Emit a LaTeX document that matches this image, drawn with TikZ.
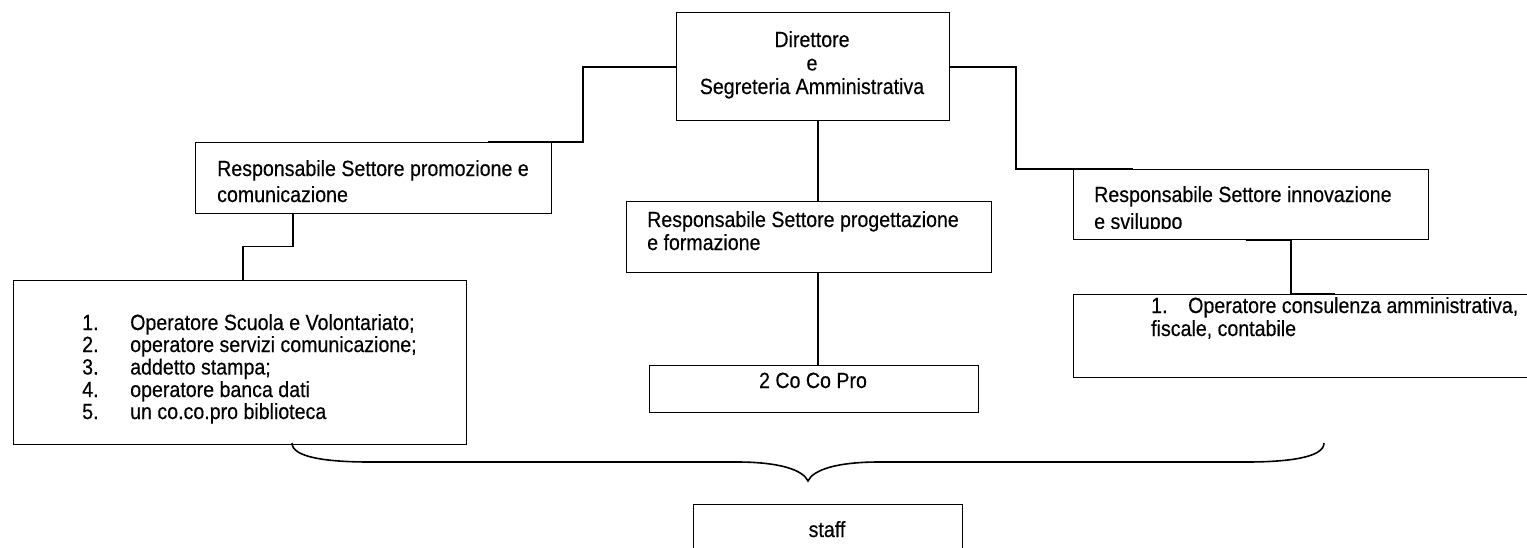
\documentclass[tikz,border=0pt]{standalone}
\usepackage{fontspec}
\setmainfont{Liberation Sans}[FakeBold=0.4]
\usetikzlibrary{calc}
\newcommand\vst[1]{\scalebox{1}[1.12]{#1}}
\begin{document}
\begin{tikzpicture}[x=1pt,y=-1pt,
  box/.style={draw,line width=1.4pt,inner sep=0pt,anchor=north west},
  conn/.style={draw,line width=1.7pt},
  txt/.style={inner sep=0pt,font=\fontsize{19.6}{23.5}\selectfont},
  ltxt/.style={txt,anchor=base west},
  ctxt/.style={txt,anchor=base}]
\useasboundingbox (0,0) rectangle (1527,547);
\clip (0,0) rectangle (1527,547);
% boxes
\node[box,minimum width=273pt,minimum height=108pt] (dir) at (676,12) {};
\node[box,minimum width=356pt,minimum height=71pt] (prom) at (195,142) {};
\node[box,minimum width=365pt,minimum height=71pt] (prog) at (626,201) {};
\node[box,minimum width=355pt,minimum height=70pt] (innov) at (1073,169) {};
\node[box,minimum width=453pt,minimum height=164pt] (list) at (13,280) {};
\node[box,minimum width=329pt,minimum height=47pt] (coco) at (649,365) {};
\node[box,minimum width=470pt,minimum height=83pt] (op) at (1073,294) {};
\node[box,minimum width=269pt,minimum height=60pt] (staff) at (693,504) {};
% texts
\node[ctxt] (t1) at (812,47) {\vst{Direttore}};
\node[ctxt] (t2) at (812,70.5) {\vst{e}};
\node[ctxt] (t3) at (812,94) {\vst{Segreteria Amministrativa}};
\node[ltxt] (p1) at (217,176) {\vst{Responsabile Settore promozione e}};
\node[ltxt] (p2) at (217,202) {\vst{comunicazione}};
\node[ltxt] (g1) at (647,227) {\vst{Responsabile Settore progettazione}};
\node[ltxt] (g2) at (647,250) {\vst{e formazione}};
\node[ltxt] (i1) at (1094,202) {\vst{Responsabile Settore innovazione}};
\begin{scope}
\clip (1073,169) rectangle (1428,228);
\node[ltxt] (i2) at (1094,229) {\vst{e sviluppo}};
\end{scope}
\node[ltxt] (n1) at (82,330) {\vst{1.}};
\node[ltxt] (l1) at (130,330) {\vst{Operatore Scuola e Volontariato;}};
\node[ltxt] (n2) at (82,352) {\vst{2.}};
\node[ltxt] (l2) at (130,352) {\vst{operatore servizi comunicazione;}};
\node[ltxt] (n3) at (82,374.5) {\vst{3.}};
\node[ltxt] (l3) at (130,374.5) {\vst{addetto stampa;}};
\node[ltxt] (n4) at (82,397) {\vst{4.}};
\node[ltxt] (l4) at (130,397) {\vst{operatore banca dati}};
\node[ltxt] (n5) at (82,419) {\vst{5.}};
\node[ltxt] (l5) at (130,419) {\vst{un co.co.pro biblioteca}};
\node[ctxt] (c1) at (813,388) {\vst{2 Co Co Pro}};
\node[ltxt] (o0) at (1151,313) {\vst{1.}};
\node[ltxt] (o1) at (1188,313) {\vst{Operatore consulenza amministrativa,}};
\node[ltxt] (o2) at (1151,336) {\vst{fiscale, contabile}};
\node[ctxt] (s1) at (827,537) {\vst{staff}};
% connectors
\draw[conn] (dir.west) -| (583,142) -- ($(prom.north west)+(293,0)$);
\draw[conn] (dir.east) -| (1016,169) -- ($(innov.north west)+(60,0)$);
\draw[conn] ([xshift=4.5pt]dir.south) -- ([xshift=8.5pt]prog.north);
\draw[conn] ([xshift=8.5pt]prog.south) -- ([xshift=3.5pt]coco.north);
\draw[conn] ([xshift=-81pt]prom.south) -- ++(0,32) -| ([xshift=2.5pt]list.north);
\draw[conn] ([xshift=-5.5pt]innov.south) -- ++(45,0) |- ($(op.north west)+(262,0)$);
% brace
\draw[conn,line width=1.6pt] (292,443) .. controls (292,458) and (330,462) .. (370,462)
  -- (737,462) .. controls (780,462) and (803,470) .. (808,481)
  .. controls (813,470) and (836,462) .. (879,462)
  -- (1246,462) .. controls (1286,462) and (1324,458) .. (1324,443);
\end{tikzpicture}
\end{document}
